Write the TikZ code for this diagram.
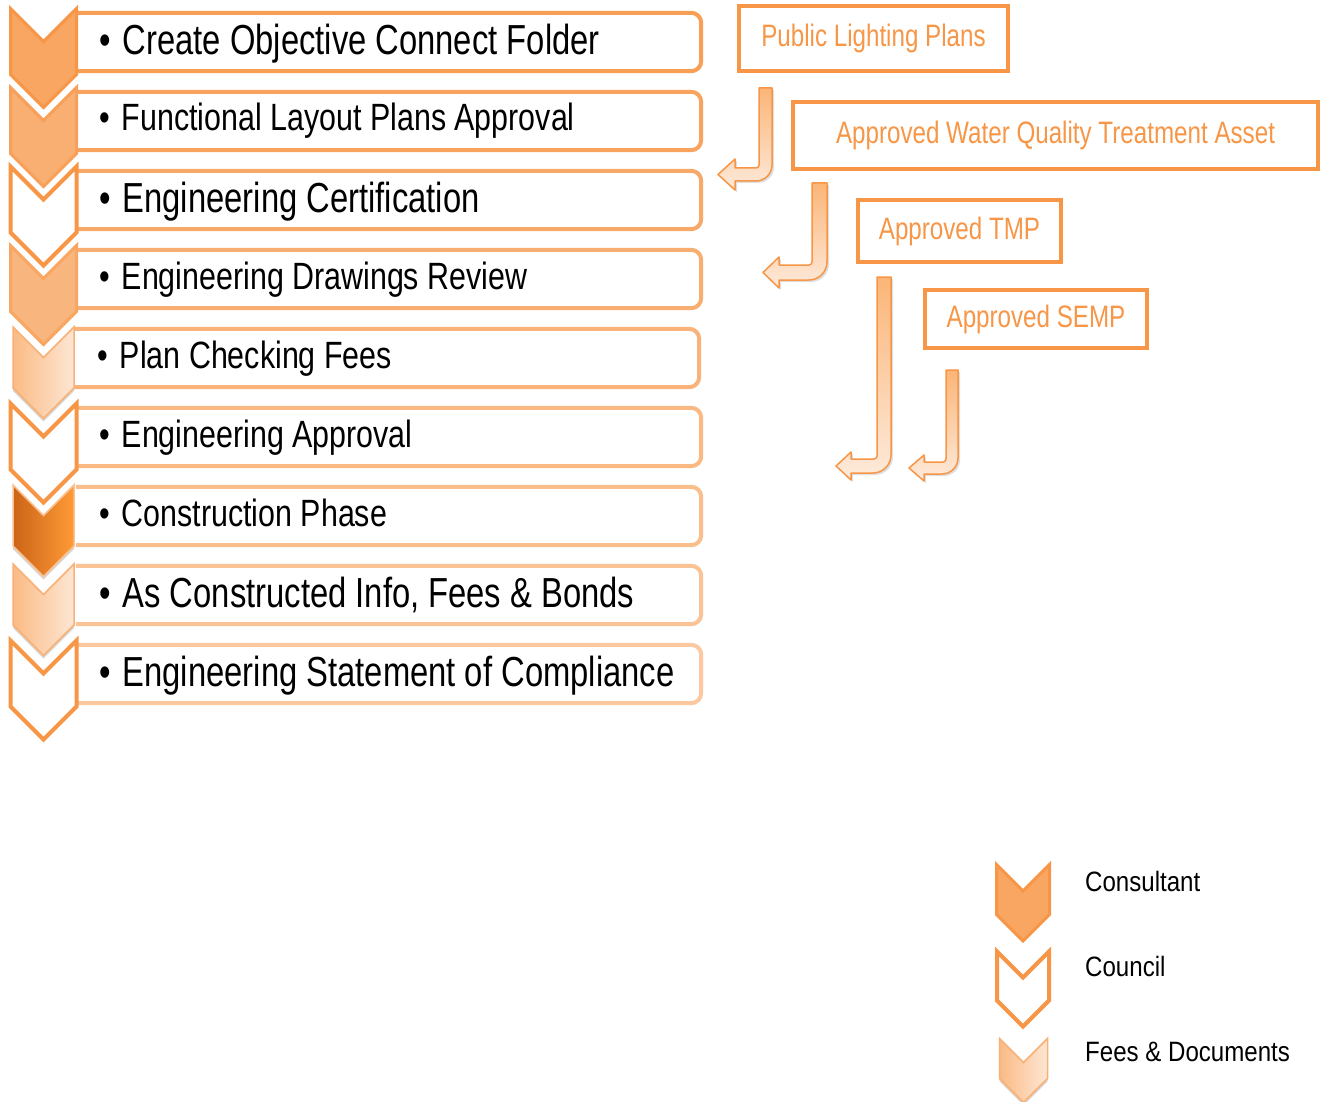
\documentclass[tikz,border=0pt]{standalone}
\usepackage{fontspec}
\setmainfont{Liberation Sans}
\newfontfamily\narrowfont{Liberation Sans}[FakeStretch=0.78]
\newfontfamily\narrowerfont{Liberation Sans}[FakeStretch=0.80]
\newfontfamily\legendfont{Liberation Sans}[FakeStretch=0.86]
\usetikzlibrary{shadows}

\definecolor{accent}{HTML}{F79646}
\definecolor{arrowtop}{HTML}{FBB577}
\definecolor{arrowbot}{HTML}{FDEADB}
\definecolor{feesleft}{HTML}{FABB85}
\definecolor{feesright}{HTML}{FEE6D4}
\definecolor{buildleft}{HTML}{CC6418}
\definecolor{buildright}{HTML}{FF9A36}

% chevron: style, left x, top y, width, side height
\newcommand{\drawchev}[5]{%
  \draw[#1] (#2,#3) -- ++(#4/2,#4/2) -- ++(#4/2,-#4/2) -- ++(0,#5)
    -- ++(-#4/2,#4/2) -- ++(-#4/2,-#4/2) -- cycle;}

% bent arrow: left x, right x, top y, arm top y, head base x, tip x, head overhang, outer radius
\newcommand{\bentarrow}[8]{%
  \draw[bentstyle] (#1,#3) -- (#2,#3) -- (#2,{#4+#2-#1-#8})
    arc[start angle=0,end angle=90,radius=#8]
    -- (#5,{#4+#2-#1}) -- (#5,{#4+#2-#1+#7}) -- (#6,{#4+(#2-#1)/2})
    -- (#5,{#4-#7}) -- (#5,#4) -- ({#1-3},#4)
    arc[start angle=90,end angle=0,radius=3] -- cycle;}

\begin{document}
\begin{tikzpicture}[x=1pt,y=-1pt,
  line join=miter,
  rowbox/.style={draw=none, minimum width=625pt, minimum height=58pt, inner sep=0pt},
  rowtext/.style={anchor=base west, inner sep=0pt},
  big/.style={font=\narrowfont\fontsize{42}{48}\selectfont},
  small/.style={font=\narrowerfont\fontsize{38}{44}\selectfont},
  rowline/.style={line width=4pt, rounded corners=10pt},
  consA/.style={fill=accent!85!white, draw=accent, line width=3pt},
  consB/.style={fill=accent!76!white, draw=accent!90!white, line width=3pt},
  consC/.style={fill=accent!70!white, draw=accent!85!white, line width=3pt},
  council/.style={fill=white, draw=accent, line width=4pt},
  fees/.style={left color=feesleft, right color=feesright,
    draw=accent!75!white, line width=1.5pt,
    drop shadow={opacity=0.3, shadow xshift=0pt, shadow yshift=-3pt}},
  build/.style={left color=buildleft, right color=buildright,
    draw=accent!60!white, line width=1.5pt,
    drop shadow={opacity=0.3, shadow xshift=0pt, shadow yshift=-3pt}},
  rbox/.style={draw=accent, line width=4pt, text=accent, inner sep=0pt,
    font=\narrowfont\fontsize{31}{36}\selectfont},
  bentstyle/.style={top color=arrowtop, bottom color=arrowbot,
    draw=accent, line width=1.5pt, line join=round,
    drop shadow={opacity=0.25, shadow xshift=2pt, shadow yshift=-2pt}},
  legendtext/.style={anchor=base west, inner sep=0pt,
    font=\legendfont\fontsize{28}{32}\selectfont}]

\useasboundingbox[fill=white] (0,0) rectangle (1327,1102);

% step list: boxes with text
\foreach \i/\dx/\inset/\sty/\fnt/\base/\txt in {
  1/0/0/consA/big/12.5/{Create Objective Connect Folder},
  2/0/0/consB/small/10/{Functional Layout Plans Approval},
  3/0/0/council/big/12.5/{Engineering Certification},
  4/0/0/consC/small/10/{Engineering Drawings Review},
  5/-2/2.5/fees/small/10.5/{Plan Checking Fees},
  6/0/0/council/small/10/{Engineering Approval},
  7/0/2.5/build/small/10/{Construction Phase},
  8/0/2.5/fees/big/12.5/{As Constructed Info, Fees \& Bonds},
  9/0/0/council/big/12.5/{Engineering Statement of Compliance}} {
  \pgfmathsetmacro\yc{42+79*(\i-1)}
  \pgfmathsetmacro\xc{388.5+\dx}
  \pgfmathsetmacro\shade{92-5*(\i-1)}
  \node[rowbox] (r\i) at (\xc,\yc) {};
  \draw[rowline, draw=accent!\shade!white]
    (r\i.north west) -- (r\i.north east) -- (r\i.south east) -- (r\i.south west);
  \node[rowtext, \fnt] (t\i) at ({99+\dx},{\yc+\base}) {\textbullet\hspace{12pt}\txt};
  \pgfmathsetmacro\cx{10.5+\inset}
  \pgfmathsetmacro\cy{8.5+79*(\i-1)+\inset}
  \pgfmathsetmacro\cw{66-2*\inset}
  \drawchev{\sty}{\cx}{\cy}{\cw}{\cw}
}

% approvals on the right
\node[rbox, minimum width=269pt, minimum height=65pt] (plp) at (873.5,38.5) {Public Lighting Plans};
\node[rbox, minimum width=525pt, minimum height=67pt] (wqt) at (1055.5,135.5) {Approved Water Quality Treatment Asset};
\node[rbox, minimum width=203pt, minimum height=62pt] (tmp) at (959.5,231) {Approved TMP};
\node[rbox, minimum width=222pt, minimum height=58pt] (semp) at (1036,319) {Approved SEMP};

% bent arrows
\bentarrow{759}{772}{88}{168}{735}{718}{9}{16}
\bentarrow{812}{827}{183}{265}{779}{763}{8}{18}
\bentarrow{877}{891}{277}{459}{851}{836}{7}{18}
\bentarrow{946}{958}{370}{462}{924}{909}{7}{16}

% legend
\drawchev{consA}{996.5}{864.5}{53}{50}
\drawchev{council}{997}{951.5}{52}{49}
\drawchev{fees}{999.5}{1038.5}{48}{40}
\node[legendtext] (lg1) at (1085,891) {Consultant};
\node[legendtext] (lg2) at (1085,976) {Council};
\node[legendtext] (lg3) at (1085,1061) {Fees \& Documents};

\end{tikzpicture}
\end{document}
